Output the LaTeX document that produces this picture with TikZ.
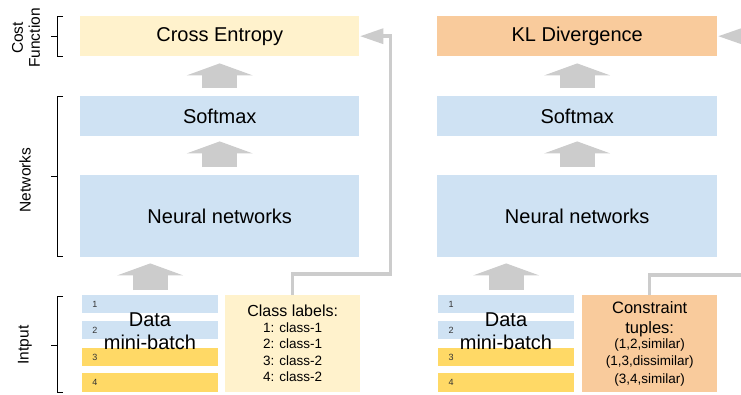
\documentclass[tikz,border=0pt]{standalone}
\usepackage{fontspec}
\setmainfont{Liberation Sans}
\usetikzlibrary{arrows.meta,calc}
\definecolor{boxblue}{HTML}{CFE2F3}
\definecolor{lightyellow}{HTML}{FFF2CC}
\definecolor{boxorange}{HTML}{F9CB9C}
\definecolor{stripyellow}{HTML}{FFD966}
\definecolor{arrowgray}{HTML}{CCCCCC}
\definecolor{numgray}{HTML}{333333}
\begin{document}
\begin{tikzpicture}[x=1pt,y=-1pt,
  box/.style={rectangle, inner sep=0pt, draw=none, anchor=north west, font=\fontsize{20}{23}\selectfont},
  strip/.style={rectangle, inner sep=0pt, draw=none, anchor=north west, minimum width=136pt},
  numlabel/.style={font=\fontsize{9}{10}\selectfont, text=numgray, anchor=center, xshift=13pt, inner sep=0pt},
  datatext/.style={font=\fontsize{20}{23}\selectfont, align=center, inner sep=0pt},
  sidelabel/.style={font=\fontsize{15.5}{17}\selectfont, align=center, inner sep=0pt, rotate=90},
  fat/.style={draw=arrowgray, line width=35pt, -{Triangle[length=12pt,width=66pt,line width=0pt]}},
  link/.style={draw=arrowgray, line width=3.5pt, -{Triangle[length=23pt,width=16pt,line width=0pt]}},
  bracket/.style={draw=black, line width=0.9pt}
]
\useasboundingbox (0,0) rectangle (741,394);

% ---- left column ----
\node[box, fill=lightyellow, minimum width=279pt, minimum height=40pt] (ce) at (80,16) {Cross Entropy};
\node[box, fill=boxblue, minimum width=279pt, minimum height=40pt] (sm1) at (80,96) {Softmax};
\node[box, fill=boxblue, minimum width=279pt, minimum height=82pt] (nn1) at (80,175) {Neural networks};

\node[strip, fill=boxblue, minimum height=18pt, label={[numlabel]west:1}] (s1) at (82,295) {};
\node[strip, fill=boxblue, minimum height=18pt, label={[numlabel]west:2}] (s2) at (82,321) {};
\node[strip, fill=stripyellow, minimum height=18pt, label={[numlabel]west:3}] (s3) at (82,348) {};
\node[strip, fill=stripyellow, minimum height=19pt, label={[numlabel]west:4}] (s4) at (82,373) {};
\node[datatext] (dt1) at (150,331) {Data\\mini-batch};

\node[box, fill=lightyellow, minimum width=135pt, minimum height=97pt, align=center,
      font=\fontsize{13.5}{16.5}\selectfont] (cl) at (225,295)
  {{\fontsize{16}{16.5}\selectfont Class labels:}\\[-1pt]1: class-1\\2: class-1\\3: class-2\\4: class-2};

% ---- right column ----
\node[box, fill=boxorange, minimum width=280pt, minimum height=40pt] (kl) at (437,16) {KL Divergence};
\node[box, fill=boxblue, minimum width=280pt, minimum height=40pt] (sm2) at (437,96) {Softmax};
\node[box, fill=boxblue, minimum width=280pt, minimum height=82pt] (nn2) at (437,175) {Neural networks};

\node[strip, fill=boxblue, minimum height=18pt, label={[numlabel]west:1}] (r1) at (438,295) {};
\node[strip, fill=boxblue, minimum height=18pt, label={[numlabel]west:2}] (r2) at (438,321) {};
\node[strip, fill=stripyellow, minimum height=18pt, label={[numlabel]west:3}] (r3) at (438,348) {};
\node[strip, fill=stripyellow, minimum height=19pt, label={[numlabel]west:4}] (r4) at (438,373) {};
\node[datatext] (dt2) at (506,331) {Data\\mini-batch};

\node[box, fill=boxorange, minimum width=135pt, minimum height=97pt, align=center,
      font=\fontsize{13.5}{17.5}\selectfont] (ct) at (582,295)
  {{\fontsize{16.5}{20}\selectfont Constraint}\\[2.5pt]{\fontsize{16.5}{20}\selectfont tuples:}\\[-2.5pt](1,2,similar)\\(1,3,dissimilar)\\(3,4,similar)};

% ---- block arrows ----
\draw[fat, shorten <=8pt, shorten >=7pt] (sm1.north) -- (ce.south);
\draw[fat, shorten <=8pt, shorten >=5pt] (nn1.north) -- (sm1.south);
\draw[fat, shorten <=5pt, shorten >=6pt] (s1.north) -- (s1.north |- nn1.south);
\draw[fat, shorten <=8pt, shorten >=7pt] (sm2.north) -- (kl.south);
\draw[fat, shorten <=8pt, shorten >=5pt] (nn2.north) -- (sm2.south);
\draw[fat, shorten <=5pt, shorten >=6pt] (r1.north) -- (r1.north |- nn2.south);

% ---- label connectors ----
\coordinate (lturn) at ([xshift=31pt]ce.east);
\draw[link, shorten >=1pt] (cl.north) -- ++(0,-21) -| (lturn) -- (ce.east);
\coordinate (rturn) at ([xshift=45pt]kl.east);
\draw[link, shorten >=1pt] (ct.north) -- ++(0,-20) -| (rturn) -- (kl.east);

% ---- brackets ----
\draw[bracket] (63,16) -- (57,16) -- (57,56) -- (63,56) (57,36) -- (51,36);
\draw[bracket] (63,96) -- (57,96) -- (57,256) -- (63,256) (57,176) -- (51,176);
\draw[bracket] (63,296) -- (57,296) -- (57,392) -- (63,392) (57,345) -- (51,345);

\node[sidelabel] (lcost) at (26,38) {Cost\\Function};
\node[sidelabel] (lnet) at (25,180) {Networks};
\node[sidelabel] (lin) at (25,345) {Intput};
\end{tikzpicture}
\end{document}
